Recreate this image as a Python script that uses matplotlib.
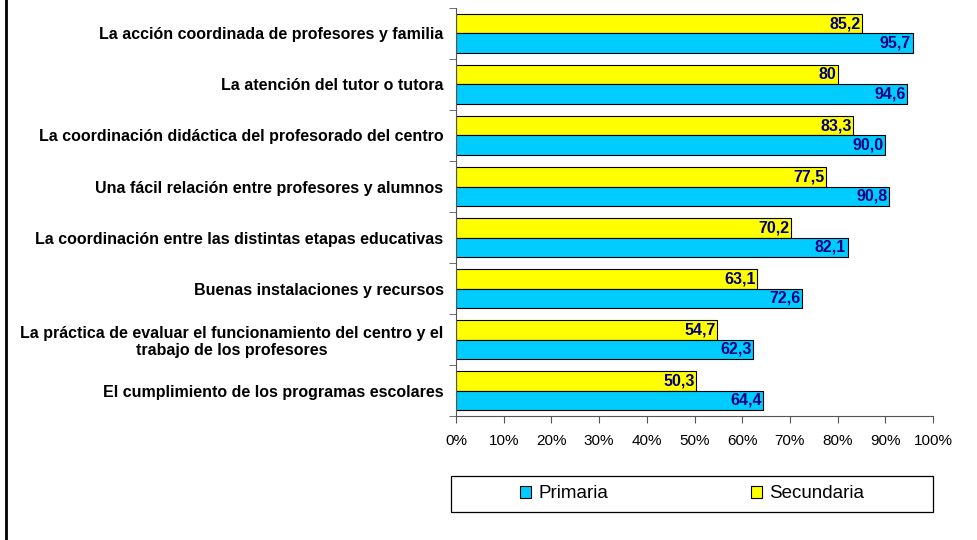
import matplotlib
matplotlib.use("Agg")
import matplotlib.pyplot as plt
import numpy as np
from matplotlib.lines import Line2D
from matplotlib.patches import Patch, Rectangle

categories = [
    "La acción coordinada de profesores y familia",
    "La atención del tutor o tutora",
    "La coordinación didáctica del profesorado del centro",
    "Una fácil relación entre profesores y alumnos",
    "La coordinación entre las distintas etapas educativas",
    "Buenas instalaciones y recursos",
    "La práctica de evaluar el funcionamiento del centro y el\ntrabajo de los profesores",
    "El cumplimiento de los programas escolares",
]
primaria = [95.7, 94.6, 90.0, 90.8, 82.1, 72.6, 62.3, 64.4]
secundaria = [85.2, 80.0, 83.3, 77.5, 70.2, 63.1, 54.7, 50.3]
primaria_labels = ["95,7", "94,6", "90,0", "90,8", "82,1", "72,6", "62,3", "64,4"]
secundaria_labels = ["85,2", "80", "83,3", "77,5", "70,2", "63,1", "54,7", "50,3"]
x_ticks = list(range(0, 101, 10))

plt.rcParams["font.family"] = ["Liberation Sans", "DejaVu Sans"]

fig = plt.figure(figsize=(9.78, 5.4), dpi=100)
ax = fig.add_axes([0.4663, 0.2296, 0.4877, 0.7556])

yellow = "#FFFF00"
cyan = "#00CCFF"
navy = "#000080"
h = 0.38
y = np.arange(len(categories))

ax.barh(y - h / 2, secundaria, height=h, color=yellow, edgecolor="black", linewidth=0.8)
ax.barh(y + h / 2, primaria, height=h, color=cyan, edgecolor="black", linewidth=0.8)

for yi, v, s in zip(y, secundaria, secundaria_labels):
    ax.text(v - 0.3, yi - h / 2, s, ha="right", va="center", color=navy,
            fontsize=11.5, fontweight="bold")
for yi, v, s in zip(y, primaria, primaria_labels):
    ax.text(v - 0.3, yi + h / 2, s, ha="right", va="center", color=navy,
            fontsize=11.5, fontweight="bold")

ax.set_xlim(0, 100)
ax.set_ylim(len(categories) - 0.5, -0.5)
ax.set_xticks(x_ticks)
ax.set_xticklabels([f"{t}%" for t in x_ticks], fontsize=11)
ax.set_yticks(y)
ax.set_yticklabels(categories, fontsize=11.5, fontweight="bold", multialignment="center")
ax.set_yticks(np.arange(len(categories) + 1) - 0.5, minor=True)
ax.tick_params(axis="y", which="major", length=0, pad=9)
ax.tick_params(axis="y", which="minor", length=5, color="#555555")
ax.tick_params(axis="x", length=5, color="#555555", pad=8)
for side in ("top", "right"):
    ax.spines[side].set_visible(False)
for side in ("left", "bottom"):
    ax.spines[side].set_color("#555555")

# legend frame drawn separately so the box keeps the reference width
fig.add_artist(Rectangle((451 / 978, 28 / 540), 482 / 978, 36 / 540,
                         transform=fig.transFigure, facecolor="white",
                         edgecolor="black", linewidth=0.9))
handles = [
    Patch(facecolor=cyan, edgecolor="black", linewidth=0.8, label="Primaria"),
    Patch(facecolor=yellow, edgecolor="black", linewidth=0.8, label="Secundaria"),
]
fig.legend(handles=handles, loc="center", ncol=2,
           bbox_to_anchor=(692 / 978, 46 / 540),
           fontsize=13.5, frameon=False,
           handlelength=0.6, handleheight=0.6, handletextpad=0.4,
           columnspacing=7.6, borderaxespad=0, borderpad=0)

fig.add_artist(Line2D([6 / 978, 6 / 978], [0, 1], color="black", linewidth=2,
                      transform=fig.transFigure))

fig.savefig("out.png", dpi=100)
